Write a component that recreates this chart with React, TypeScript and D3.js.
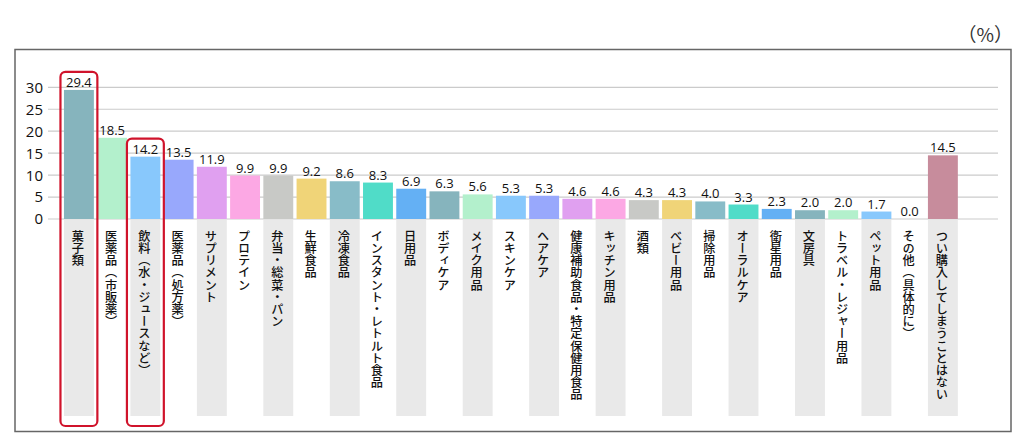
import React from "react";
import * as d3 from "d3";

const categories = [
  "菓子類",
  "医薬品（市販薬）",
  "飲料（水・ジュースなど）",
  "医薬品（処方薬）",
  "サプリメント",
  "プロテイン",
  "弁当・総菜・パン",
  "生鮮食品",
  "冷凍食品",
  "インスタント・レトルト食品",
  "日用品",
  "ボディケア",
  "メイク用品",
  "スキンケア",
  "ヘアケア",
  "健康補助食品・特定保健用食品",
  "キッチン用品",
  "酒類",
  "ベビー用品",
  "掃除用品",
  "オーラルケア",
  "衛星用品",
  "文房具",
  "トラベル・レジャー用品",
  "ペット用品",
  "その他（具体的に）",
  "つい購入してしまうことはない",
];

const values = [
  29.4, 18.5, 14.2, 13.5, 11.9, 9.9, 9.9, 9.2, 8.6, 8.3, 6.9, 6.3, 5.6, 5.3,
  5.3, 4.6, 4.6, 4.3, 4.3, 4.0, 3.3, 2.3, 2.0, 2.0, 1.7, 0.0, 14.5,
];

const palette = [
  "#86b4bd",
  "#b3f0cc",
  "#88c8fc",
  "#98a8fc",
  "#e0a0f0",
  "#fca8e4",
  "#c8c9c6",
  "#f0d478",
  "#88bcc8",
  "#50dcc8",
  "#64b0f4",
];
const lastColor = "#c78c9c";

const yTicks = [0, 5, 10, 15, 20, 25, 30];
const highlighted = ["菓子類", "飲料（水・ジュースなど）"];
const unitLabel = "（%）";

export default function App() {
  const W = 1024;
  const H = 445;
  const x = d3
    .scaleBand<string>()
    .domain(categories)
    .range([62.3, 959.5])
    .paddingInner(0.1)
    .paddingOuter(0.05);
  const y = d3.scaleLinear().domain([0, 30]).range([219, 87.3]);
  const bw = x.bandwidth();
  const numFont = "'Open Sans', 'Noto Sans', sans-serif";
  const jpFont = "'Noto Sans CJK JP', sans-serif";

  return (
    <svg
      width={W}
      height={H}
      style={{ position: "absolute", left: 0, top: 0, background: "#fff" }}
    >
      {/* frame */}
      <rect x={15} y={49.5} width={996} height={382} fill="none" stroke="#666" strokeWidth={1.5} />
      <text x={1013} y={42} textAnchor="end" fontFamily={jpFont} fontSize={19} fill="#333">
        {unitLabel}
      </text>

      {/* label backgrounds */}
      {categories.map((c, i) =>
        i % 2 === 0 ? (
          <rect key={"bg" + c} x={x(c)} y={y(0) + 1} width={bw} height={416 - y(0) - 1} fill="#e9e9e9" />
        ) : null
      )}

      {/* gridlines */}
      {yTicks.map((t) => (
        <line key={"g" + t} x1={48} x2={998} y1={y(t)} y2={y(t)} stroke="#cbcbcb" strokeWidth={1.2} />
      ))}
      {yTicks.map((t) => (
        <text
          key={"t" + t}
          x={43}
          y={y(t)}
          dy="0.36em"
          textAnchor="end"
          fontFamily={numFont}
          fontSize={15}
          fill="#111"
        >
          {t}
        </text>
      ))}

      {/* bars */}
      {categories.map((c, i) => {
        const v = values[i];
        const color = i === categories.length - 1 ? lastColor : palette[i % palette.length];
        return (
          <g key={"b" + c}>
            {v > 0 && (
              <rect x={x(c)} y={y(v)} width={bw} height={y(0) - y(v)} fill={color} />
            )}
            <text
              x={(x(c) as number) + bw / 2}
              y={y(v) - 3}
              textAnchor="middle"
              fontFamily={numFont}
              fontSize={13}
              fontWeight={500}
              fill="#111"
            >
              {v.toFixed(1)}
            </text>
            <text
              x={(x(c) as number) + bw / 2 - 1}
              y={230}
              fontFamily={jpFont}
              fontSize={12.2}
              fontWeight={500}
              fill="#111"
              style={{ writingMode: "vertical-rl" }}
            >
              {c}
            </text>
          </g>
        );
      })}

      {/* highlight boxes */}
      {highlighted.map((c) => {
        const v = values[categories.indexOf(c)];
        const top = y(v) - 18;
        return (
          <rect
            key={"h" + c}
            x={(x(c) as number) - 3.5}
            y={top}
            width={bw + 7}
            height={426 - top}
            rx={5}
            ry={5}
            fill="none"
            stroke="#d0132b"
            strokeWidth={2.2}
          />
        );
      })}
    </svg>
  );
}
